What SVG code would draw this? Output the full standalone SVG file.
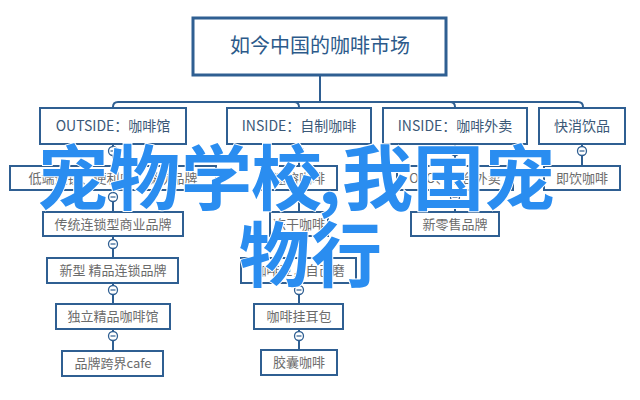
<svg xmlns="http://www.w3.org/2000/svg" width="640" height="400" viewBox="0 0 640 400">
<style>
.box{fill:#fff;stroke:#2f5f92;stroke-width:2}
.top{fill:#fff;stroke:#2f5f92;stroke-width:3}
.ln{fill:none;stroke:#2f5f92;stroke-width:2}
.t0{font-family:"Noto Sans CJK SC","Noto Sans",sans-serif;font-size:20px;fill:#2c5a8a;text-anchor:middle}
.t1{font-family:"Noto Sans CJK SC","Noto Sans",sans-serif;font-size:14px;fill:#3b5877;text-anchor:middle}
.t2{font-family:"Noto Sans CJK SC","Noto Sans",sans-serif;font-size:13px;fill:#6b6b6b;text-anchor:middle}
.big{font-family:"Noto Sans CJK SC","Noto Sans",sans-serif;font-size:71px;font-weight:700;fill:#2a8df0;stroke:#fff;stroke-width:2;paint-order:stroke}
.c{fill:#fff;stroke:#2f5f92;stroke-width:1.3}
.m{stroke:#2f5f92;stroke-width:1.2}
</style>
<rect width="640" height="400" fill="#fff"/>
<g id="connectors">
<path class="ln" d="M320,75 V102"/>
<path class="ln" d="M113,108 V107 Q113,102 118,102 H578 Q583,102 583,107 V108"/>
<path class="ln" d="M294,102 Q299,102 299,107 V108"/>
<path class="ln" d="M450,102 Q455,102 455,107 V108"/>
<path class="ln" d="M113,144 V351"/>
<path class="ln" d="M299,144 V350"/>
<path class="ln" d="M455,144 V212"/>
<path class="ln" d="M582,144 V166"/>
<g id="toggles">
<circle class="c" cx="113" cy="151" r="4.5"/><line class="m" x1="110.5" y1="151" x2="115.5" y2="151"/>
<circle class="c" cx="113" cy="197" r="4.5"/><line class="m" x1="110.5" y1="197" x2="115.5" y2="197"/>
<circle class="c" cx="113" cy="244" r="4.5"/><line class="m" x1="110.5" y1="244" x2="115.5" y2="244"/>
<circle class="c" cx="113" cy="290" r="4.5"/><line class="m" x1="110.5" y1="290" x2="115.5" y2="290"/>
<circle class="c" cx="113" cy="336" r="4.5"/><line class="m" x1="110.5" y1="336" x2="115.5" y2="336"/>
<circle class="c" cx="299" cy="151" r="4.5"/><line class="m" x1="296.5" y1="151" x2="301.5" y2="151"/>
<circle class="c" cx="299" cy="197" r="4.5"/><line class="m" x1="296.5" y1="197" x2="301.5" y2="197"/>
<circle class="c" cx="299" cy="244" r="4.5"/><line class="m" x1="296.5" y1="244" x2="301.5" y2="244"/>
<circle class="c" cx="299" cy="290" r="4.5"/><line class="m" x1="296.5" y1="290" x2="301.5" y2="290"/>
<circle class="c" cx="299" cy="336" r="4.5"/><line class="m" x1="296.5" y1="336" x2="301.5" y2="336"/>
<circle class="c" cx="455" cy="151" r="4.5"/><line class="m" x1="452.5" y1="151" x2="457.5" y2="151"/>
<circle class="c" cx="455" cy="197" r="4.5"/><line class="m" x1="452.5" y1="197" x2="457.5" y2="197"/>
<circle class="c" cx="582" cy="151" r="4.5"/><line class="m" x1="579.5" y1="151" x2="584.5" y2="151"/>
</g>
</g>
<g id="root"><rect class="top" x="193" y="18" width="253" height="57"/><text class="t0" x="320" y="53">如今中国的咖啡市场</text></g>
<g id="outside"><rect class="box" x="40" y="108" width="146" height="36"/><text class="t1" x="113" y="131">OUTSIDE：咖啡馆</text></g>
<g id="inside1"><rect class="box" x="227" y="108" width="144" height="36"/><text class="t1" x="299" y="131">INSIDE：自制咖啡</text></g>
<g id="inside2"><rect class="box" x="383" y="108" width="144" height="36"/><text class="t1" x="455" y="131">INSIDE：咖啡外卖</text></g>
<g id="fmcg"><rect class="box" x="539" y="108" width="86" height="36"/><text class="t1" x="582" y="131">快消饮品</text></g>
<g id="l2"><rect class="box" x="10" y="166" width="206" height="24"/><text class="t2" x="113" y="183">低端连锁、便利店、餐饮品牌</text></g>
<g id="l3"><rect class="box" x="43" y="212" width="140" height="24"/><text class="t2" x="113" y="229">传统连锁型商业品牌</text></g>
<g id="l4"><rect class="box" x="47" y="258" width="131" height="25"/><text class="t2" x="113" y="275">新型 精品连锁品牌</text></g>
<g id="l5"><rect class="box" x="56" y="304" width="114" height="25"/><text class="t2" x="113" y="321">独立精品咖啡馆</text></g>
<g id="l6"><rect class="box" x="62" y="351" width="101" height="25"/><text class="t2" x="113" y="368">品牌跨界cafe</text></g>
<g id="c2"><rect class="box" x="261" y="166" width="76" height="24"/><text class="t2" x="299" y="183">速溶咖啡</text></g>
<g id="c3"><rect class="box" x="270" y="212" width="58" height="24"/><text class="t2" x="299" y="229">冻干咖啡</text></g>
<g id="c4"><rect class="box" x="241" y="258" width="115" height="25"/><text class="t2" x="299" y="275">咖啡豆，自己磨</text></g>
<g id="c5"><rect class="box" x="254" y="304" width="89" height="25"/><text class="t2" x="299" y="321">咖啡挂耳包</text></g>
<g id="c6"><rect class="box" x="261" y="350" width="76" height="25"/><text class="t2" x="299" y="367">胶囊咖啡</text></g>
<g id="r2"><rect class="box" x="397" y="166" width="116" height="24"/><text class="t2" x="455" y="183">O2O、平台外卖</text></g>
<g id="r3"><rect class="box" x="411" y="212" width="88" height="24"/><text class="t2" x="455" y="229">新零售品牌</text></g>
<g id="f2"><rect class="box" x="544" y="166" width="76" height="24"/><text class="t2" x="582" y="183">即饮咖啡</text></g>
<g id="overlay">
<text class="big" x="37 109 181 251 318 342 413 484" y="204">宠物学校,我国宠</text>
<text class="big" x="239 311" y="281">物行</text>
</g>
</svg>
